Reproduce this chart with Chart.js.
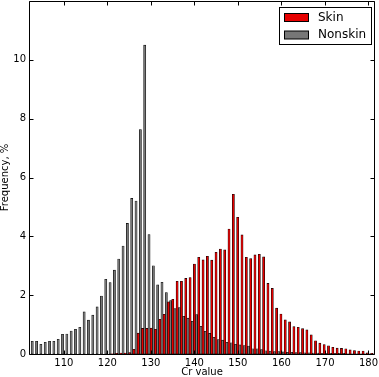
<!DOCTYPE html>
<html><head><meta charset="utf-8">
<script src="https://cdn.jsdelivr.net/npm/chart.js@4.4.0/dist/chart.umd.min.js"></script>
<style>html,body{margin:0;padding:0;background:#fff}#wrap{width:379px;height:377px;position:relative}</style>
</head><body><div id="wrap"><canvas id="c" width="379" height="377"></canvas></div>
<script>
// Histogram bins (left edge of each Cr bin)
const binStarts = [102,103,104,105,106,107,108,109,110,111,112,113,114,115,116,117,118,119,120,121,
  122,123,124,125,126,127,128,129,130,131,132,133,134,135,136,137,138,139,140,141,
  142,143,144,145,146,147,148,149,150,151,152,153,154,155,156,157,158,159,160,161,
  162,163,164,165,166,167,168,169,170,171,172,173,174,175,176,177,178,179,180,181];
// Frequency, % per bin
const skin = [0,0,0,0,0,0,0,0,0,0,
  0,0,0,0,0,0,0,0,0,0.01,
  0.02,0.03,0.03,0.05,0.16,0.71,0.87,0.87,0.88,0.84,
  1.18,1.35,1.77,1.86,2.47,2.47,2.57,2.60,3.06,3.29,
  3.20,3.32,3.19,3.46,3.57,3.54,4.25,5.43,4.65,4.05,
  3.29,3.24,3.37,3.39,3.30,2.40,2.23,1.56,1.36,1.16,
  1.09,0.93,0.91,0.86,0.82,0.65,0.45,0.37,0.32,0.28,
  0.23,0.20,0.19,0.18,0.14,0.12,0.10,0.10,0.04,0.02];
const nonskin = [0.43,0.43,0.33,0.40,0.43,0.43,0.50,0.67,0.68,0.78,
  0.84,0.91,1.43,1.15,1.32,1.60,1.97,2.54,2.43,2.85,
  3.23,3.67,4.44,5.29,5.20,7.63,10.5,4.06,3.00,2.35,
  2.44,2.09,1.82,1.54,1.58,1.28,1.22,1.11,1.34,0.94,
  0.77,0.70,0.57,0.49,0.47,0.40,0.38,0.33,0.31,0.29,
  0.27,0.18,0.18,0.15,0.11,0.10,0.08,0.08,0.07,0.06,
  0.06,0.05,0.05,0.04,0.04,0.03,0.03,0.02,0.02,0.02,
  0.02,0.02,0.02,0.01,0.01,0.01,0.01,0.01,0.01,0.01];
const seriesNames = ['Skin','Nonskin'];
const xTickValues = [110,120,130,140,150,160,170,180];
const yTickValues = [0,2,4,6,8,10];
const xRange = [102, 181.5];
const yRange = [0, 12];

Chart.defaults.font.family = 'DejaVu Sans';
Chart.defaults.color = '#000';

const framePlugin = {
  id: 'frame',
  afterDatasetsDraw(chart) {
    const {ctx, chartArea: a} = chart;
    const xs = chart.scales.xt, ys = chart.scales.y;
    ctx.save();
    ctx.strokeStyle = '#000';
    ctx.lineWidth = 1;
    ctx.beginPath();
    const L = Math.round(a.left)+0.5, R = Math.round(a.right)-0.5, T = Math.round(a.top)+0.5, B = Math.round(a.bottom)+0.5;
    ctx.rect(L, T, R-L, B-T);
    const tl = 4;
    xTickValues.forEach(v => {
      const px = Math.round(xs.getPixelForValue(v)) + 0.5;
      ctx.moveTo(px, B); ctx.lineTo(px, B - tl);
      ctx.moveTo(px, T); ctx.lineTo(px, T + tl);
    });
    yTickValues.concat([yRange[1]]).forEach(v => {
      const py = Math.round(ys.getPixelForValue(v)) + 0.5;
      ctx.moveTo(L, py); ctx.lineTo(L + tl, py);
      ctx.moveTo(R, py); ctx.lineTo(R - tl, py);
    });
    ctx.stroke();
    ctx.restore();
  },
  afterDraw(chart) {
    const {ctx} = chart;
    const ds = chart.data.datasets;
    ctx.save();
    const bx = 279.5, by = 7.5, bw = 92, bh = 37;
    ctx.fillStyle = '#fff';
    ctx.fillRect(bx, by, bw, bh);
    ctx.strokeStyle = '#000';
    ctx.lineWidth = 1;
    ctx.strokeRect(bx, by, bw, bh);
    ctx.font = '12px "DejaVu Sans"';
    ctx.textBaseline = 'middle';
    ds.forEach((d, i) => {
      const ry = 13 + i * 17.5;
      ctx.fillStyle = d.backgroundColor;
      ctx.fillRect(284.5, ry + 0.5, 24, 8);
      ctx.strokeStyle = '#000';
      ctx.strokeRect(284.5, ry + 0.5, 24, 8);
      ctx.fillStyle = '#000';
      ctx.fillText(d.label, 318, ry + 4.5);
    });
    ctx.restore();
  }
};

new Chart(document.getElementById('c'), {
  type: 'bar',
  data: {
    labels: binStarts,
    datasets: [
      {label: seriesNames[0], data: skin, backgroundColor: '#e60000', borderColor: '#000', borderWidth: 0.6,
       categoryPercentage: 1.0, barPercentage: 1.0, borderSkipped: false},
      {label: seriesNames[1], data: nonskin, backgroundColor: '#777777', borderColor: '#000', borderWidth: 0.6,
       categoryPercentage: 1.0, barPercentage: 1.0, borderSkipped: false}
    ]
  },
  options: {
    responsive: false,
    animation: false,
    events: [],
    layout: {padding: {top: 1, right: 4, left: 0, bottom: 0}},
    plugins: {legend: {display: false}, tooltip: {enabled: false}},
    scales: {
      x: {type: 'category', display: false, offset: true, grid: {display: false}},
      xt: {
        type: 'linear', position: 'bottom', min: xRange[0], max: xRange[1], offset: false,
        grid: {display: false, drawTicks: false, offset: false}, border: {display: false},
        afterBuildTicks: s => { s.ticks = xTickValues.map(v => ({value: v})); },
        ticks: {padding: 3, font: {size: 10}, maxRotation: 0, autoSkip: false},
        title: {display: true, text: 'Cr value', font: {size: 10, lineHeight: 1}, padding: 0},
        afterFit: s => { s.height = 23; s.paddingLeft = 0; s.paddingRight = 0; }
      },
      y: {
        type: 'linear', min: yRange[0], max: yRange[1],
        grid: {display: false, drawTicks: false}, border: {display: false},
        afterBuildTicks: s => { s.ticks = yTickValues.map(v => ({value: v})); },
        ticks: {padding: 3, font: {size: 10}},
        title: {display: true, text: 'Frequency, %', font: {size: 10, lineHeight: 1}, padding: 0},
        afterFit: s => { s.width = 29; s.paddingTop = 0; s.paddingBottom = 0; }
      }
    }
  },
  plugins: [framePlugin]
});
</script>
</body></html>
